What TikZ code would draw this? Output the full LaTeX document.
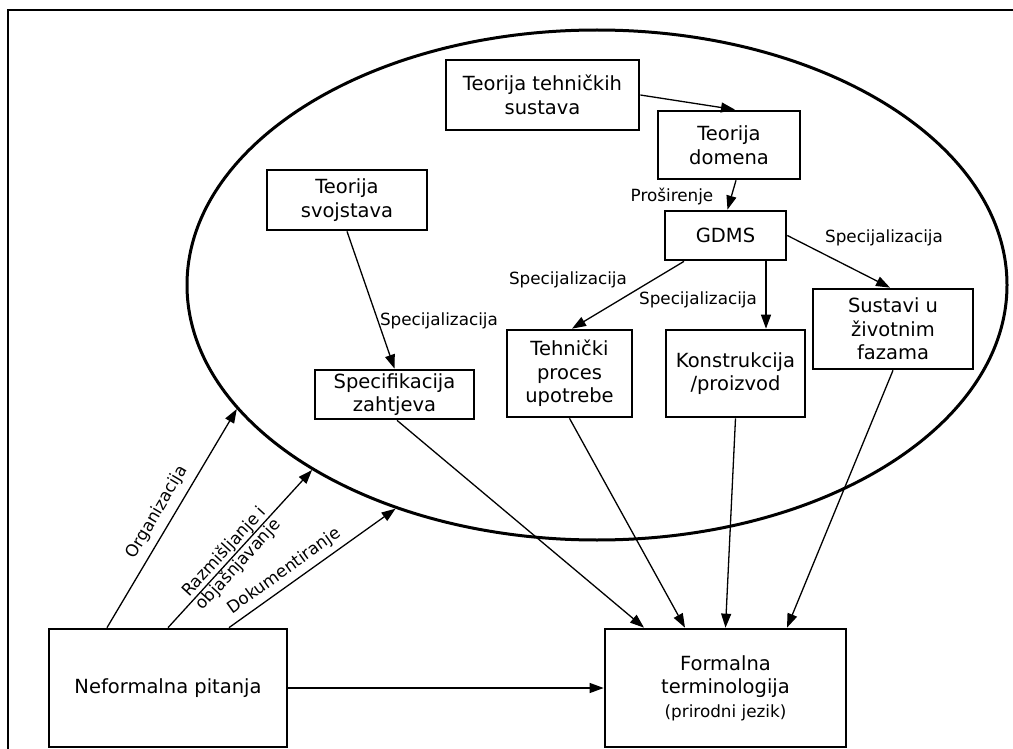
\documentclass[tikz,border=0pt]{standalone}
\usepackage{fontspec}
\setmainfont{DejaVu Sans}
\usetikzlibrary{shapes.geometric,arrows.meta}
\begin{document}
\begin{tikzpicture}[x=1pt,y=-1pt,
  box/.style={draw, line width=2.7pt, inner sep=0pt, align=center, font=\fontsize{19.5}{23.5}\selectfont},
  arr/.style={line width=1.3pt, -{Triangle[length=14pt,width=10pt]}},
  lab/.style={font=\fontsize{16.8}{19}\selectfont, inner sep=0pt, align=center}]
\useasboundingbox (0,0) rectangle (1013,749);
\draw[line width=1.3pt] (8,10) rectangle (1030,770);
\node[draw, ellipse, line width=3pt, minimum width=820pt, minimum height=510pt, inner sep=0pt] (ell) at (597,285) {};
\node[box, minimum width=193pt, minimum height=70pt] (tts) at (542.5,95) {Teorija tehničkih\\sustava};
\node[box, minimum width=142pt, minimum height=68pt] (dom) at (729,145) {Teorija\\domena};
\node[box, minimum width=121pt, minimum height=49pt] (gdms) at (725.5,235.5) {GDMS};
\node[box, minimum width=160pt, minimum height=80pt] (sus) at (893,329) {Sustavi u\\životnim\\fazama};
\node[box, minimum width=139pt, minimum height=87pt] (kon) at (735.5,373.5) {Konstrukcija\\/proizvod};
\node[box, minimum width=125pt, minimum height=87pt] (teh) at (569.5,373.5) {Tehnički\\proces\\upotrebe};
\node[box, minimum width=160pt, minimum height=60pt] (svo) at (347,200) {Teorija\\svojstava};
\node[box, minimum width=159pt, minimum height=49pt] (spe) at (394.5,394.5) {Specifikacija\\zahtjeva};
\node[box, minimum width=238pt, minimum height=118pt] (nef) at (168,688) {Neformalna pitanja};
\node[box, minimum width=241pt, minimum height=118pt] (form) at (725.5,688) {Formalna\\terminologija\\{\fontsize{16.8}{20}\selectfont (prirodni jezik)}};
\draw[arr] (tts.east) -- ([xshift=6pt]dom.north);
\draw[arr] ([xshift=7pt]dom.south) -- ([xshift=2pt]gdms.north);
\node[lab] (lpro) at (672,197) {Proširenje};
\draw[arr] (gdms.east) -- ([xshift=-3pt]sus.north);
\draw[arr] ([xshift=40.5pt]gdms.south) -- ([xshift=30.5pt]kon.north);
\draw[arr] ([xshift=-41.5pt]gdms.south) -- ([xshift=2.5pt]teh.north);
\draw[arr] (svo.south) -- (spe.north);
\draw[arr] ([xshift=2.5pt]spe.south) -- ([xshift=-81.5pt]form.north);
\draw[arr] (teh.south) -- ([xshift=-40.5pt]form.north);
\draw[arr] (kon.south) -- (form.north);
\draw[arr] (sus.south) -- ([xshift=61.5pt]form.north);
\draw[arr] (nef.east) -- (form.west);
\draw[arr] ([xshift=-61pt]nef.north) -- node[lab, sloped, above=7pt, pos=0.49] (lorg) {Organizacija} (ell.199.4);
\draw[arr] (nef.north) -- node[lab, sloped, pos=0.44] (lraz) {Razmišljanje i\\objašnjavanje} (ell.213.6);
\draw[arr] ([xshift=61pt]nef.north) -- node[lab, sloped, above=5pt, pos=0.38] (ldok) {Dokumentiranje} (ell.228.8);
\node[lab] (ls1) at (439,321) {Specijalizacija};
\node[lab] (ls2) at (568,280) {Specijalizacija};
\node[lab] (ls3) at (698,300) {Specijalizacija};
\node[lab] (ls4) at (884,238) {Specijalizacija};
\end{tikzpicture}
\end{document}
